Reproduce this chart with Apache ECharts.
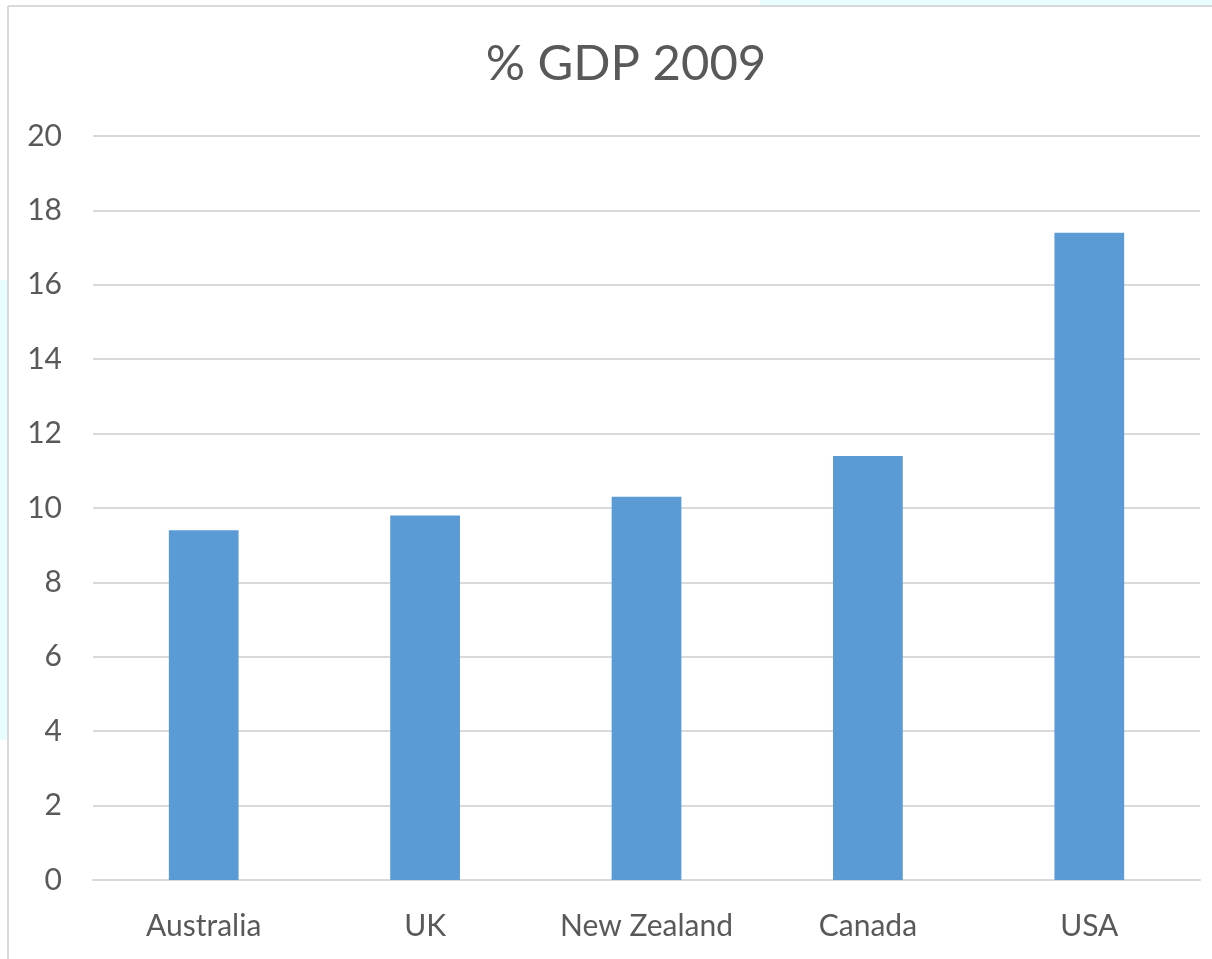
<!DOCTYPE html>
<html>
<head>
<meta charset="utf-8">
<script src="https://cdn.jsdelivr.net/npm/echarts@6/dist/echarts.min.js"></script>
<style>
  html, body { margin: 0; padding: 0; background: #fff; }
  #main { width: 1212px; height: 959px; }
</style>
</head>
<body>
<div id="main"></div>
<script>
var countries = ['Australia', 'UK', 'New Zealand', 'Canada', 'USA'];
var gdpShare = [9.4, 9.8, 10.3, 11.4, 17.4];
var yTicks = [0, 2, 4, 6, 8, 10, 12, 14, 16, 18, 20];

var myChart = echarts.init(document.getElementById('main'));

var option = {
    backgroundColor: '#ffffff',
    animation: false,
    title: {
        text: '% GDP 2009',
        left: 621,
        top: 35,
        textAlign: 'center',
        textStyle: {
            fontFamily: 'Lato',
            fontSize: 49,
            fontWeight: 'normal',
            color: '#595959'
        }
    },
    // frame lines and light background patches
    graphic: [
        { type: 'rect', shape: { x: 760, y: 0, width: 452, height: 6 }, style: { fill: '#e8fdfd' }, silent: true },
        { type: 'rect', shape: { x: 0, y: 280, width: 7, height: 460 }, style: { fill: '#e8fdfd' }, silent: true },
        { type: 'line', shape: { x1: 8, y1: 6, x2: 1212, y2: 6 }, style: { stroke: '#d9d9d9', lineWidth: 2 }, silent: true },
        { type: 'line', shape: { x1: 8, y1: 6, x2: 8, y2: 959 }, style: { stroke: '#d9d9d9', lineWidth: 2 }, silent: true }
    ],
    grid: {
        left: 93,
        right: 12,
        top: 136,
        bottom: 79
    },
    xAxis: {
        type: 'category',
        data: countries,
        axisTick: { show: false },
        axisLine: { lineStyle: { color: '#d9d9d9', width: 2 } },
        axisLabel: {
            interval: 0,
            hideOverlap: false,
            margin: 31,
            fontFamily: 'Lato',
            fontSize: 30,
            color: '#595959'
        }
    },
    yAxis: {
        type: 'value',
        min: yTicks[0],
        max: yTicks[yTicks.length - 1],
        interval: 2,
        axisLine: { show: false },
        axisTick: { show: false },
        splitLine: { lineStyle: { color: '#d9d9d9', width: 2 } },
        axisLabel: {
            margin: 31,
            fontFamily: 'Lato',
            fontSize: 30,
            color: '#595959'
        }
    },
    series: [{
        type: 'bar',
        data: gdpShare,
        barWidth: '31.5%',
        itemStyle: { color: '#5b9bd5' }
    }]
};

myChart.setOption(option);
</script>
</body>
</html>
